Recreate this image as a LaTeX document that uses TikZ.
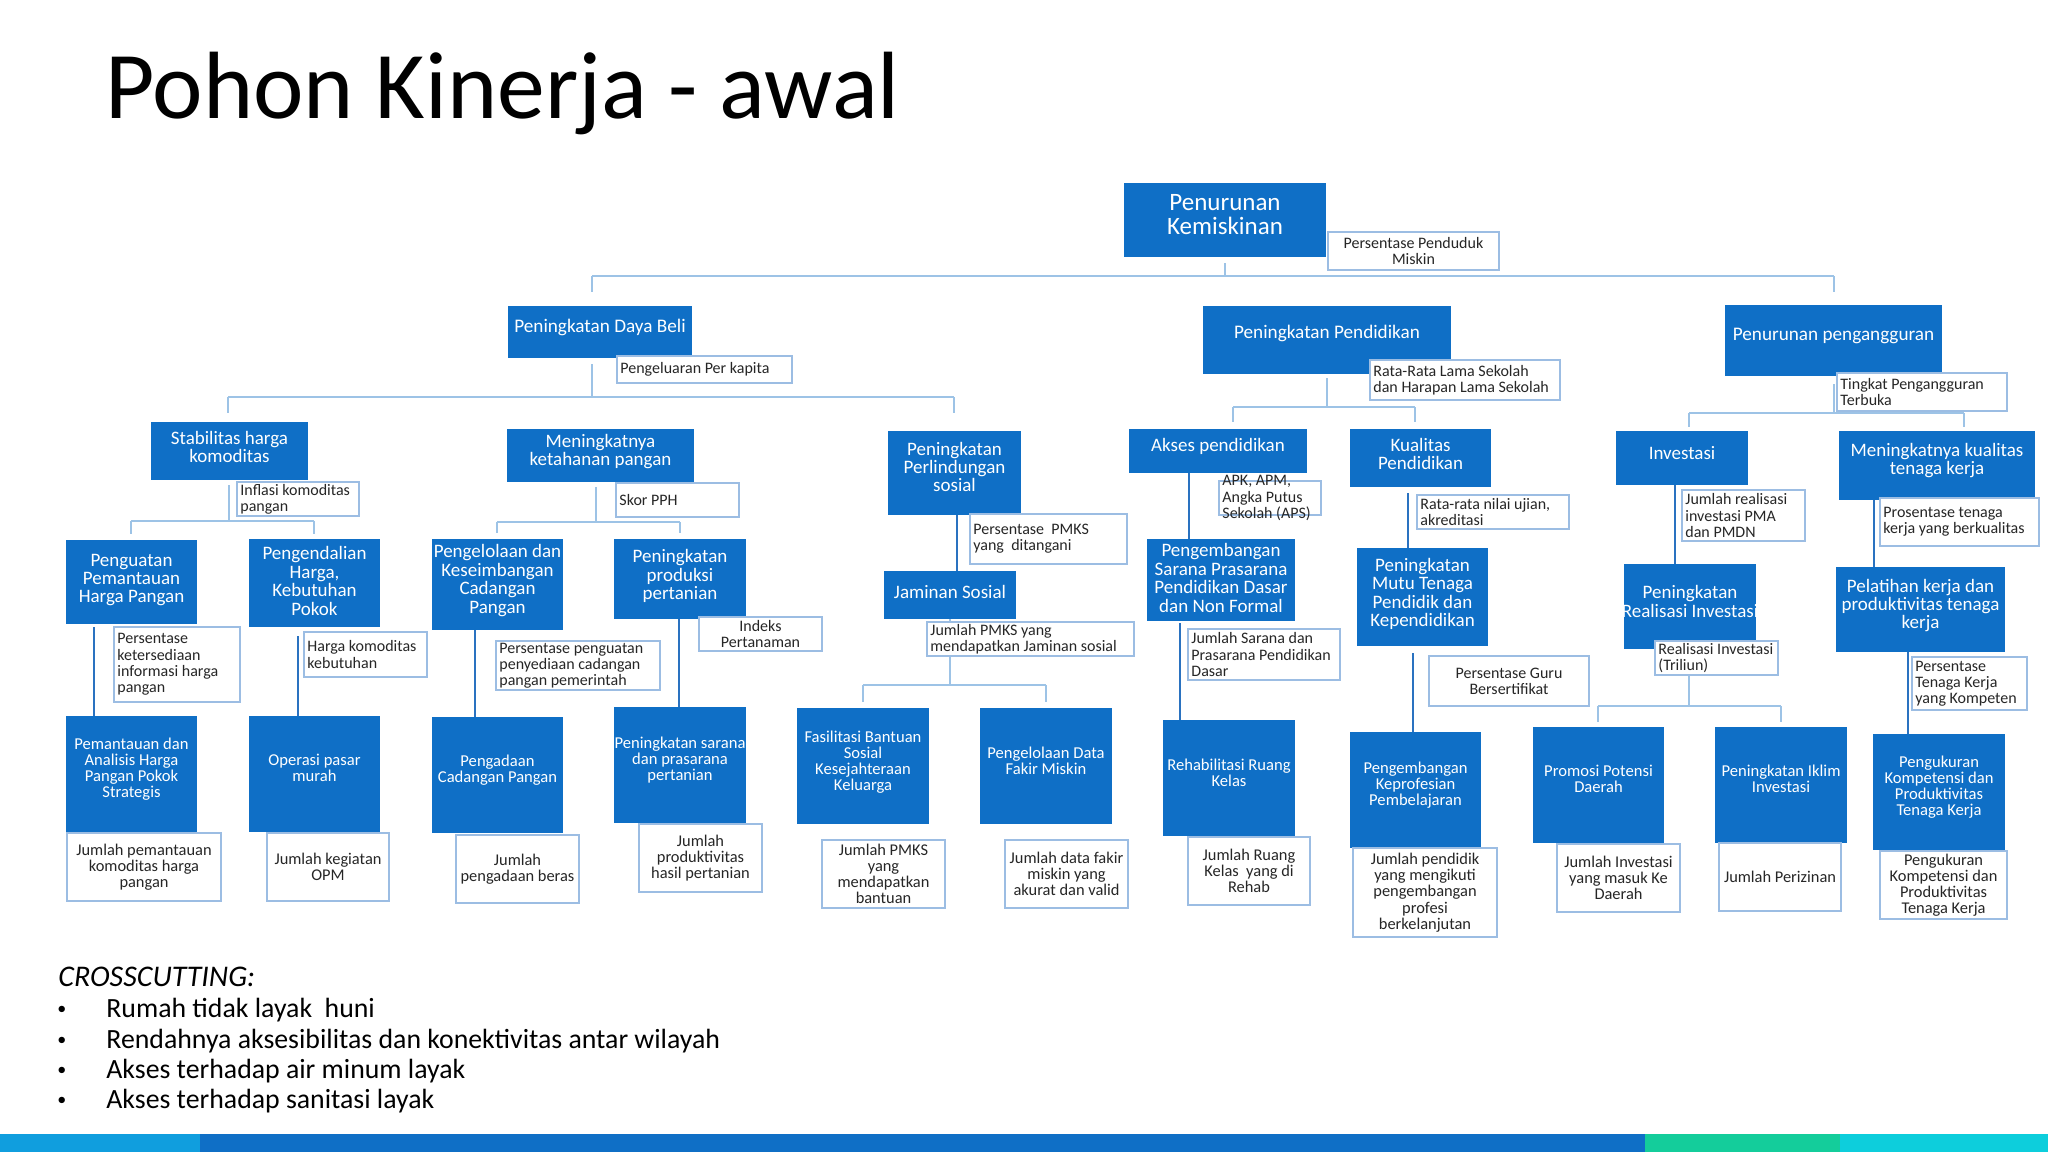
\documentclass[tikz,border=0pt]{standalone}
\usepackage{fontspec}
\setmainfont{Carlito}
\usetikzlibrary{calc}
\pgfdeclarelayer{bg}
\pgfsetlayers{bg,main}
\definecolor{boxblue}{HTML}{0F6FC6}
\definecolor{connpale}{HTML}{9DC3E6}
\definecolor{chainblue}{HTML}{2A72C0}
\definecolor{indline}{HTML}{9CBDE3}
\definecolor{barlb}{HTML}{109EDE}
\definecolor{bargreen}{HTML}{14CD9B}
\definecolor{barcyan}{HTML}{0DCEDC}
\tikzset{
  bluebox/.style={fill=boxblue, draw=none, inner sep=0pt, outer sep=0pt},
  bluetext/.style={text=white, align=center, inner sep=0pt},
  indbox/.style={fill=white, draw=indline, line width=0.75pt, inner sep=0pt, outer sep=0pt},
  indtext/.style={text=black!85, inner sep=0pt},
  conn/.style={draw=connpale, line width=1pt},
  chain/.style={draw=chainblue, line width=1.3pt},
  ftop/.style={font=\fontsize{12.5pt}{12pt}\selectfont},
  flone/.style={font=\fontsize{9.6pt}{9.3pt}\selectfont},
  fbox/.style={font=\fontsize{9.5pt}{9.2pt}\selectfont},
  fboxs/.style={font=\fontsize{8.3pt}{8.1pt}\selectfont},
  find/.style={font=\fontsize{8pt}{8.1pt}\selectfont},
  finds/.style={font=\fontsize{8.2pt}{8.1pt}\selectfont},
  flist/.style={font=\fontsize{13.9pt}{14pt}\selectfont},
  fbul/.style={font=\fontsize{9pt}{9pt}\selectfont},
}
% blue box: name, x1, y1, x2, y2, font style, text y-offset, text
\newcommand\bbx[8]{%
  \pgfmathsetmacro\myW{(#4-#2)/2}%
  \pgfmathsetmacro\myH{(#5-#3)/2}%
  \pgfmathsetmacro\myX{(#2+#4)/2}%
  \pgfmathsetmacro\myY{(#3+#5)/2}%
  \node[bluebox, minimum width=\myW pt, minimum height=\myH pt] (#1) at (\myX,\myY) {};
  \node[bluetext, #6] (#1-t) at ($(#1.center)+(0,#7)$) {#8};
}
% indicator, left aligned text
\newcommand\ibl[7]{%
  \pgfmathsetmacro\myW{(#4-#2)/2}%
  \pgfmathsetmacro\myH{(#5-#3)/2}%
  \pgfmathsetmacro\myX{(#2+#4)/2}%
  \pgfmathsetmacro\myY{(#3+#5)/2}%
  \node[indbox, minimum width=\myW pt, minimum height=\myH pt] (#1) at (\myX,\myY) {};
  \node[indtext, #6, anchor=west, align=left] (#1-t) at ($(#1.west)+(3,0)$) {#7};
}
% indicator, centred text
\newcommand\ibc[7]{%
  \pgfmathsetmacro\myW{(#4-#2)/2}%
  \pgfmathsetmacro\myH{(#5-#3)/2}%
  \pgfmathsetmacro\myX{(#2+#4)/2}%
  \pgfmathsetmacro\myY{(#3+#5)/2}%
  \node[indbox, minimum width=\myW pt, minimum height=\myH pt] (#1) at (\myX,\myY) {};
  \node[indtext, #6, align=center] (#1-t) at (#1.center) {#7};
}
\begin{document}
\begin{tikzpicture}[x=0.5pt,y=-0.5pt]
\useasboundingbox (0,0) rectangle (2048,1152);

% ---------- title
\node[anchor=base west, inner sep=0pt, font=\fontsize{47.8pt}{50pt}\selectfont] (title) at (105,118) {Pohon Kinerja - awal};

% ---------- level 0
\bbx{pk}{1124}{183}{1326}{257}{ftop}{-5}{Penurunan\\Kemiskinan}
\ibc{i0}{1328}{232}{1499}{270}{find}{Persentase Penduduk\\Miskin}

% ---------- level 1
\bbx{db}{508}{306}{692}{358}{flone}{-5}{Peningkatan Daya Beli}
\bbx{pp}{1203}{306}{1451}{374}{flone}{-7}{Peningkatan Pendidikan}
\bbx{pg}{1725}{305}{1942}{376}{flone}{-5}{Penurunan pengangguran}
\ibl{i1}{617}{356}{792}{383}{find}{Pengeluaran Per kapita}
\ibl{i2}{1370}{360}{1560}{400}{find}{Rata-Rata Lama Sekolah\\dan Harapan Lama Sekolah}
\ibl{i3}{1837}{373}{2007}{411}{find}{Tingkat Pengangguran\\Terbuka}

% ---------- level 2
\bbx{sh}{151}{422}{308}{480}{fbox}{-4}{Stabilitas harga\\komoditas}
\bbx{kp}{507}{429}{694}{482}{fbox}{-4}{Meningkatnya\\ketahanan pangan}
\bbx{ps}{888}{431}{1021}{515}{fbox}{-6}{Peningkatan\\Perlindungan\\sosial}
\bbx{ak}{1129}{429}{1307}{473}{fbox}{-5}{Akses pendidikan}
\bbx{kq}{1350}{429}{1491}{487}{fbox}{-4}{Kualitas\\Pendidikan}
\bbx{iv}{1616}{431}{1748}{485}{fbox}{-5}{Investasi}
\bbx{kt}{1839}{431}{2035}{500}{fbox}{-5}{Meningkatnya kualitas\\tenaga kerja}
\ibl{i4}{237}{482}{359}{516}{find}{Inflasi komoditas\\pangan}
\ibl{i5}{616}{483}{739}{517}{find}{Skor PPH}
\ibl{i6}{970}{514}{1127}{564}{find}{Persentase\ \ PMKS\\yang\ \ ditangani}
\ibl{i7}{1219}{481}{1321}{515}{find}{APK, APM,\\Angka Putus\\Sekolah (APS)}
\ibl{i8}{1417}{495}{1569}{529}{find}{Rata-rata nilai ujian,\\akreditasi}
\ibl{i9}{1682}{490}{1805}{541}{find}{Jumlah realisasi\\investasi PMA\\dan PMDN}
\ibl{i10}{1880}{498}{2039}{546}{find}{Prosentase tenaga\\kerja yang berkualitas}

% ---------- level 3
\bbx{php}{66}{540}{197}{624}{fbox}{-2}{Penguatan\\Pemantauan\\Harga Pangan}
\bbx{phk}{249}{539}{380}{627}{fbox}{-2}{Pengendalian\\Harga,\\Kebutuhan\\Pokok}
\bbx{pkc}{432}{539}{563}{630}{fbox}{-4}{Pengelolaan dan\\Keseimbangan\\Cadangan\\Pangan}
\bbx{ppt}{614}{539}{746}{619}{fbox}{-3}{Peningkatan\\produksi\\pertanian}
\bbx{js}{884}{571}{1016}{619}{fbox}{-3}{Jaminan Sosial}
\bbx{psp}{1147}{539}{1295}{621}{fbox}{-2}{Pengembangan\\Sarana Prasarana\\Pendidikan Dasar\\dan Non Formal}
\bbx{pmt}{1357}{548}{1488}{646}{fbox}{-3}{Peningkatan\\Mutu Tenaga\\Pendidik dan\\Kependidikan}
\bbx{pri}{1624}{564}{1756}{649}{fbox}{-5}{Peningkatan\\Realisasi Investasi}
\bbx{pkk}{1836}{567}{2005}{652}{fbox}{-4}{Pelatihan kerja dan\\produktivitas tenaga\\kerja}
\ibl{i11}{114}{627}{240}{702}{find}{Persentase\\ketersediaan\\informasi harga\\pangan}
\ibl{i12}{304}{632}{427}{677}{find}{Harga komoditas\\kebutuhan}
\ibl{i13}{496}{641}{660}{690}{find}{Persentase penguatan\\penyediaan cadangan\\pangan pemerintah}
\ibc{i14}{699}{617}{822}{651}{find}{Indeks\\Pertanaman}
\ibl{i15}{927}{622}{1134}{656}{find}{Jumlah PMKS yang\\mendapatkan Jaminan sosial}
\ibl{i16}{1188}{629}{1340}{680}{find}{Jumlah Sarana dan\\Prasarana Pendidikan\\Dasar}
\ibc{i17}{1429}{656}{1589}{706}{find}{Persentase Guru\\Bersertifikat}
\ibl{i18}{1655}{641}{1778}{675}{find}{Realisasi Investasi\\(Triliun)}
\ibl{i19}{1912}{657}{2027}{710}{find}{Persentase\\Tenaga Kerja\\yang Kompeten}

% ---------- level 4
\bbx{pah}{66}{716}{197}{832}{fboxs}{-5}{Pemantauan dan\\Analisis Harga\\Pangan Pokok\\Strategis}
\bbx{opm}{249}{716}{380}{832}{fboxs}{-6}{Operasi pasar\\murah}
\bbx{pcp}{432}{717}{563}{833}{fboxs}{-5}{Pengadaan\\Cadangan Pangan}
\bbx{psr}{614}{707}{746}{823}{fboxs}{-5}{Peningkatan sarana\\dan prasarana\\pertanian}
\bbx{fbs}{797}{708}{929}{824}{fboxs}{-4}{Fasilitasi Bantuan\\Sosial\\Kesejahteraan\\Keluarga}
\bbx{pdf}{980}{708}{1112}{824}{fboxs}{-5}{Pengelolaan Data\\Fakir Miskin}
\bbx{rrk}{1163}{720}{1295}{836}{fboxs}{-5}{Rehabilitasi Ruang\\Kelas}
\bbx{pkp}{1350}{732}{1481}{848}{fboxs}{-5}{Pengembangan\\Keprofesian\\Pembelajaran}
\bbx{ppd}{1533}{727}{1664}{843}{fboxs}{-6}{Promosi Potensi\\Daerah}
\bbx{pii}{1715}{727}{1847}{843}{fboxs}{-6}{Peningkatan Iklim\\Investasi}
\bbx{pkt}{1873}{734}{2005}{850}{fboxs}{-5}{Pengukuran\\Kompetensi dan\\Produktivitas\\Tenaga Kerja}
\ibc{i20}{67}{833}{221}{901}{finds}{Jumlah pemantauan\\komoditas harga\\pangan}
\ibc{i21}{267}{833}{389}{901}{finds}{Jumlah kegiatan\\OPM}
\ibc{i22}{456}{835}{579}{903}{finds}{Jumlah\\pengadaan beras}
\ibc{i23}{639}{824}{762}{892}{finds}{Jumlah\\produktivitas\\hasil pertanian}
\ibc{i24}{822}{840}{945}{908}{finds}{Jumlah PMKS\\yang\\mendapatkan\\bantuan}
\ibc{i25}{1005}{840}{1128}{908}{finds}{Jumlah data fakir\\miskin yang\\akurat dan valid}
\ibc{i26}{1188}{837}{1310}{905}{finds}{Jumlah Ruang\\Kelas\ \ yang di\\Rehab}
\ibc{i27}{1353}{848}{1497}{937}{finds}{Jumlah pendidik\\yang mengikuti\\pengembangan\\profesi\\berkelanjutan}
\ibc{i28}{1557}{844}{1680}{912}{finds}{Jumlah Investasi\\yang masuk Ke\\Daerah}
\ibc{i29}{1719}{843}{1841}{911}{finds}{Jumlah Perizinan}
\ibc{i30}{1880}{851}{2007}{919}{finds}{Pengukuran\\Kompetensi dan\\Produktivitas\\Tenaga Kerja}

% ---------- connectors (background layer)
\begin{pgfonlayer}{bg}
\fill[white] (0,0) rectangle (2048,1152);
% buses
\coordinate (j0) at (1225,276); \coordinate (j0a) at (592,276); \coordinate (j0b) at (1834,276);
\draw[conn] ($(pk.south)+(0,6)$) -- (j0);
\draw[conn] (j0a) -- (j0b);
\draw[conn] (j0a) -- ++(0,16);
\draw[conn] (j0b) -- ++(0,16);

\coordinate (j1) at (592,397); \coordinate (j1a) at (228,397); \coordinate (j1b) at (954,397);
\draw[conn] ($(db.south -| j1)+(0,6)$) -- (j1);
\draw[conn] (j1a) -- (j1b);
\draw[conn] (j1a) -- ++(0,16);
\draw[conn] (j1b) -- ++(0,16);

\coordinate (j2) at (1327,407); \coordinate (j2a) at (1233,407); \coordinate (j2b) at (1415,407);
\draw[conn] ($(pp.south -| j2)+(0,4)$) -- (j2);
\draw[conn] (j2a) -- (j2b);
\draw[conn] (j2a) -- ++(0,15);
\draw[conn] (j2b) -- ++(0,15);

\coordinate (j3) at (1834,413); \coordinate (j3a) at (1689,413); \coordinate (j3b) at (1964,413);
\draw[conn] ($(pg.south -| j3)+(0,8)$) -- (j3);
\draw[conn] (j3a) -- (j3b);
\draw[conn] (j3a) -- ++(0,14);
\draw[conn] (j3b) -- ++(0,14);

\coordinate (j4) at (229,521); \coordinate (j4a) at (131,521); \coordinate (j4b) at (314,521);
\draw[conn] ($(sh.south -| j4)+(0,5)$) -- (j4);
\draw[conn] (j4a) -- (j4b);
\draw[conn] (j4a) -- ++(0,13);
\draw[conn] (j4b) -- ++(0,13);

\coordinate (j5) at (596,522); \coordinate (j5a) at (497,522); \coordinate (j5b) at (680,522);
\draw[conn] ($(kp.south -| j5)+(0,5)$) -- (j5);
\draw[conn] (j5a) -- (j5b);
\draw[conn] (j5a) -- ++(0,11);
\draw[conn] (j5b) -- ++(0,11);

\coordinate (j6) at (950,685); \coordinate (j6a) at (863,685); \coordinate (j6b) at (1046,685);
\draw[conn] (js.south -| j6) -- (j6);
\draw[conn] (j6a) -- (j6b);
\draw[conn] (j6a) -- ++(0,17);
\draw[conn] (j6b) -- ++(0,17);

\coordinate (j7) at (1689,706); \coordinate (j7a) at (1598,706); \coordinate (j7b) at (1781,706);
\draw[conn] (pri.south -| j7) -- (j7);
\draw[conn] (j7a) -- (j7b);
\draw[conn] (j7a) -- ++(0,16);
\draw[conn] (j7b) -- ++(0,16);

% chains
\coordinate (c1) at (957,0);  \draw[chain] (ps.south -| c1) -- (js.north -| c1);
\coordinate (c2) at (1189,0); \draw[chain] (ak.south -| c2) -- (psp.north -| c2);
\coordinate (c3) at (1408,0); \draw[chain, shorten <=3pt] (kq.south -| c3) -- (pmt.north -| c3);
\coordinate (c4) at (1675,0); \draw[chain] (iv.south -| c4) -- (pri.north -| c4);
\coordinate (c5) at (1874,0); \draw[chain] (kt.south -| c5) -- (pkk.north -| c5);
\coordinate (c6) at (94,0);   \draw[chain, shorten <=1.5pt] (php.south -| c6) -- (pah.north -| c6);
\coordinate (c7) at (298,0);  \draw[chain, shorten <=4.5pt] (phk.south -| c7) -- (opm.north -| c7);
\coordinate (c8) at (475,0);  \draw[chain] (pkc.south -| c8) -- (pcp.north -| c8);
\coordinate (c9) at (679,0);  \draw[chain] (ppt.south -| c9) -- (psr.north -| c9);
\coordinate (c10) at (1180,0); \draw[chain, shorten <=1pt] (psp.south -| c10) -- (rrk.north -| c10);
\coordinate (c11) at (1413,0); \draw[chain, shorten <=3.5pt] (pmt.south -| c11) -- (pkp.north -| c11);
\coordinate (c12) at (1908,0); \draw[chain] (pkk.south -| c12) -- (pkt.north -| c12);
\end{pgfonlayer}

% ---------- crosscutting list
\node[anchor=base west, inner sep=0pt, font=\itshape\fontsize{15pt}{15pt}\selectfont] (cc) at (58,986) {CROSSCUTTING:};
\node[anchor=base west, inner sep=0pt, fbul] (b1) at (57,1014) {•};
\node[anchor=base west, inner sep=0pt, flist] (t1) at (106,1017) {Rumah tidak layak\ \ huni};
\node[anchor=base west, inner sep=0pt, fbul] (b2) at (57,1045) {•};
\node[anchor=base west, inner sep=0pt, flist] (t2) at (106,1048) {Rendahnya aksesibilitas dan konektivitas antar wilayah};
\node[anchor=base west, inner sep=0pt, fbul] (b3) at (57,1075) {•};
\node[anchor=base west, inner sep=0pt, flist] (t3) at (106,1078) {Akses terhadap air minum layak};
\node[anchor=base west, inner sep=0pt, fbul] (b4) at (57,1105) {•};
\node[anchor=base west, inner sep=0pt, flist] (t4) at (106,1108) {Akses terhadap sanitasi layak};

% ---------- bottom bar
\fill[barlb] (0,1134) rectangle (200,1152);
\fill[boxblue] (200,1134) rectangle (1645,1152);
\fill[bargreen] (1645,1134) rectangle (1840,1152);
\fill[barcyan] (1840,1134) rectangle (2048,1152);
\end{tikzpicture}
\end{document}
